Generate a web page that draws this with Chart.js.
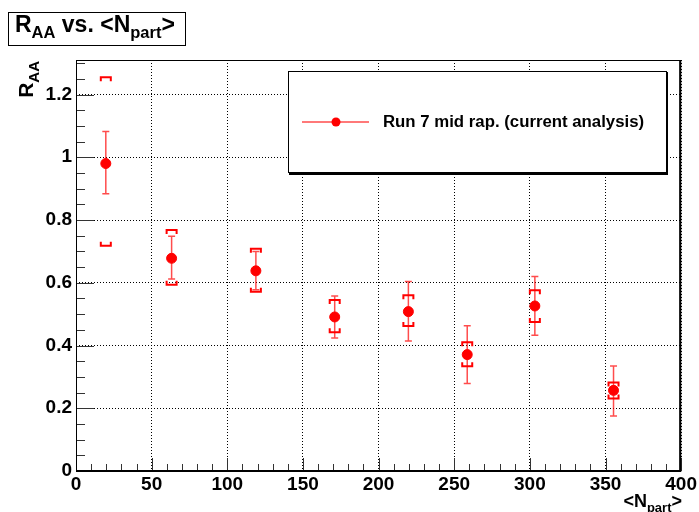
<!DOCTYPE html>
<html>
<head>
<meta charset="utf-8">
<script src="https://cdn.jsdelivr.net/npm/chart.js@4"></script>
<style>
  html, body { margin: 0; padding: 0; background: #fff; }
  #wrap { width: 699px; height: 512px; }
</style>
</head>
<body>
<div id="wrap"><canvas id="raaChart" width="699" height="512"></canvas></div>
<script>
// values
const npart = [19.7, 63.2, 118.9, 171.0, 219.7, 258.6, 303.3, 355.3];
const raa = [0.980, 0.678, 0.638, 0.491, 0.508, 0.371, 0.526, 0.257];
const statLo = [0.884, 0.612, 0.578, 0.424, 0.414, 0.279, 0.433, 0.175];
const statHi = [1.082, 0.748, 0.700, 0.558, 0.604, 0.463, 0.620, 0.335];
const sysLo = [0.718, 0.594, 0.571, 0.442, 0.462, 0.334, 0.475, 0.231];
const sysHi = [1.255, 0.768, 0.708, 0.545, 0.560, 0.410, 0.576, 0.282];
const xTicks = [0, 50, 100, 150, 200, 250, 300, 350, 400];
const yTicks = [0, 0.2, 0.4, 0.6, 0.8, 1.0, 1.2];
const seriesLabel = 'Run 7 mid rap. (current analysis)';

const FONT = '"Liberation Sans", Arial, Helvetica, sans-serif';
const RED = '#ff0000';

// draw text with subscripts, parts = [[text, isSub], ...]
function richText(ctx, parts, x, y, size, subSize, align) {
  let w = 0;
  parts.forEach(p => {
    ctx.font = 'bold ' + (p[1] ? subSize : size) + 'px ' + FONT;
    w += ctx.measureText(p[0]).width;
  });
  let cx = align === 'right' ? x - w : x;
  ctx.textAlign = 'left';
  ctx.textBaseline = 'alphabetic';
  parts.forEach(p => {
    ctx.font = 'bold ' + (p[1] ? subSize : size) + 'px ' + FONT;
    ctx.fillText(p[0], cx, p[1] ? y + size * 0.28 : y);
    cx += ctx.measureText(p[0]).width;
  });
}

const rootStyle = {
  id: 'rootStyle',
  beforeDatasetsDraw(chart) {
    const ctx = chart.ctx;
    const xs = chart.scales.x, ys = chart.scales.y;
    ctx.save();
    npart.forEach((n, i) => {
      const px = xs.getPixelForValue(n);
      // statistical error bar
      const t = ys.getPixelForValue(statHi[i]);
      const b = ys.getPixelForValue(statLo[i]);
      ctx.strokeStyle = 'rgba(255,0,0,0.7)';
      ctx.lineWidth = 1.5;
      ctx.beginPath();
      ctx.moveTo(px, t); ctx.lineTo(px, b);
      ctx.moveTo(px - 3.5, t); ctx.lineTo(px + 3.5, t);
      ctx.moveTo(px - 3.5, b); ctx.lineTo(px + 3.5, b);
      ctx.stroke();
      // systematic brackets
      const st = ys.getPixelForValue(sysHi[i]);
      const sb = ys.getPixelForValue(sysLo[i]);
      ctx.strokeStyle = RED;
      ctx.lineWidth = 2;
      ctx.beginPath();
      ctx.moveTo(px - 5, st + 4); ctx.lineTo(px - 5, st); ctx.lineTo(px + 5, st); ctx.lineTo(px + 5, st + 4);
      ctx.moveTo(px - 5, sb - 4); ctx.lineTo(px - 5, sb); ctx.lineTo(px + 5, sb); ctx.lineTo(px + 5, sb - 4);
      ctx.stroke();
    });
    ctx.restore();
  },
  afterDraw(chart) {
    const ctx = chart.ctx;
    const xs = chart.scales.x, ys = chart.scales.y;
    const a = chart.chartArea;
    ctx.save();
    // ticks inside the frame
    ctx.strokeStyle = '#333';
    ctx.lineWidth = 1;
    ctx.beginPath();
    for (let v = 0; v <= 400; v += 10) {
      const px = Math.round(xs.getPixelForValue(v)) + 0.5;
      const len = v % 50 === 0 ? 13 : 7;
      ctx.moveTo(px, a.bottom); ctx.lineTo(px, a.bottom - len);
    }
    for (let k = 0; k <= 26; k++) {
      const v = k * 0.05;
      const py = Math.round(ys.getPixelForValue(v)) + 0.5;
      const len = k % 4 === 0 ? 18 : 9;
      ctx.moveTo(a.left, py); ctx.lineTo(a.left + len, py);
    }
    ctx.stroke();
    // frame
    ctx.strokeStyle = '#000';
    ctx.lineWidth = 1;
    ctx.strokeRect(a.left + 0.5, a.top + 0.5, a.right - a.left - 1, a.bottom - a.top);
    ctx.lineWidth = 2;
    ctx.beginPath();
    ctx.moveTo(a.left, a.bottom); ctx.lineTo(a.right, a.bottom);
    ctx.moveTo(a.right - 1, a.top); ctx.lineTo(a.right - 1, a.bottom);
    ctx.stroke();

    // legend box
    ctx.fillStyle = '#fff';
    ctx.fillRect(288, 71, 379, 102);
    ctx.strokeStyle = '#000';
    ctx.lineWidth = 1;
    ctx.strokeRect(288.5, 71.5, 378, 101);
    ctx.lineWidth = 2;
    ctx.beginPath();
    ctx.moveTo(667, 72); ctx.lineTo(667, 174); ctx.lineTo(289, 174);
    ctx.stroke();
    ctx.strokeStyle = 'rgba(255,0,0,0.7)';
    ctx.lineWidth = 1.5;
    ctx.beginPath();
    ctx.moveTo(302, 122); ctx.lineTo(369, 122);
    ctx.stroke();
    ctx.fillStyle = RED;
    ctx.beginPath();
    ctx.arc(336, 122, 4.5, 0, Math.PI * 2);
    ctx.fill();
    ctx.fillStyle = '#000';
    ctx.font = 'bold 16.8px ' + FONT;
    ctx.textAlign = 'left';
    ctx.textBaseline = 'middle';
    ctx.fillText(seriesLabel, 383, 122);

    // title box
    ctx.fillStyle = '#fff';
    ctx.fillRect(8, 12, 177, 33);
    ctx.strokeStyle = '#000';
    ctx.lineWidth = 1;
    ctx.strokeRect(8.5, 12.5, 177, 33);
    ctx.fillStyle = '#000';
    richText(ctx, [['R', false], ['AA', true], [' vs. <N', false], ['part', true], ['>', false]], 15, 32, 23, 16.5);

    // y axis title
    ctx.save();
    ctx.translate(33, 61);
    ctx.rotate(-Math.PI / 2);
    richText(ctx, [['R', false], ['AA', true]], 0, 0, 21, 15, 'right');
    ctx.restore();

    // x axis title
    richText(ctx, [['<N', false], ['part', true], ['>', false]], 682, 507, 18, 13, 'right');
    ctx.restore();
  }
};

const ctx = document.getElementById('raaChart').getContext('2d');
const raaChart = new Chart(ctx, {
  type: 'scatter',
  data: {
    datasets: [{
      label: seriesLabel,
      data: npart.map((n, i) => ({ x: n, y: raa[i] })),
      backgroundColor: RED,
      borderColor: RED,
      pointRadius: 5,
      pointHoverRadius: 5,
      showLine: false
    }]
  },
  options: {
    responsive: false,
    animation: false,
    events: [],
    layout: { padding: { top: 60, right: 15, left: 0, bottom: 0 } },
    plugins: {
      legend: { display: false },
      title: { display: false },
      tooltip: { enabled: false }
    },
    scales: {
      x: {
        type: 'linear',
        min: 0,
        max: 400,
        afterFit: s => { s.height = 41; },
        afterBuildTicks: s => { s.ticks = xTicks.map(v => ({ value: v })); },
        ticks: {
          color: '#000',
          padding: 2,
          maxRotation: 0,
          font: { family: FONT, size: 19, weight: 'bold' },
          callback: v => String(v)
        },
        grid: { color: '#000', lineWidth: 1, drawTicks: false },
        border: { display: false, dash: [1, 2] }
      },
      y: {
        type: 'linear',
        min: 0,
        max: 1.31,
        afterFit: s => { s.width = 76; },
        afterBuildTicks: s => { s.ticks = yTicks.map(v => ({ value: v })); },
        ticks: {
          color: '#000',
          padding: 4,
          font: { family: FONT, size: 19, weight: 'bold' },
          callback: v => String(+v.toFixed(1))
        },
        grid: { color: '#000', lineWidth: 1, drawTicks: false },
        border: { display: false, dash: [1, 2] }
      }
    }
  },
  plugins: [rootStyle]
});
</script>
</body>
</html>
